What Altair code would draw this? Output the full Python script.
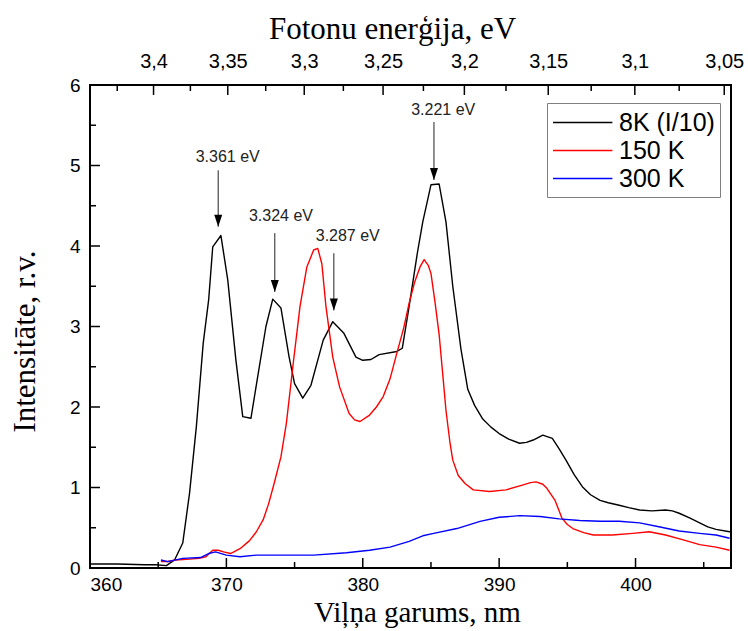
import altair as alt
import pandas as pd

# ---- data ----
black_wl = [360.0, 362.0, 364.0, 364.8, 365.6, 366.2, 366.8, 367.3, 367.8, 368.3, 368.7, 369.0, 369.6,
            370.1, 370.7, 371.2, 371.8, 372.3, 372.9, 373.4, 374.0, 374.6, 375.0, 375.6, 376.2, 377.1,
            377.8, 378.6, 379.5, 380.0, 380.6, 381.2, 382.5, 382.9, 383.4, 384.0, 384.4, 385.0, 385.6,
            386.1, 386.6, 387.2, 387.7, 388.2, 388.8, 389.4, 390.0, 390.7, 391.5, 392.0, 392.5, 393.2,
            393.9, 394.4, 394.9, 395.5, 396.1, 396.7, 397.4, 398.0, 398.8, 399.5, 400.3, 401.2, 402.2,
            402.7, 403.2, 404.0, 404.7, 405.3, 405.9, 406.9, 407.0]
black_int = [0.05, 0.05, 0.04, 0.04, 0.03, 0.10, 0.31, 0.93, 1.76, 2.79, 3.33, 3.99, 4.13,
             3.58, 2.58, 1.88, 1.86, 2.38, 3.00, 3.34, 3.23, 2.62, 2.29, 2.11, 2.27, 2.83,
             3.06, 2.92, 2.62, 2.58, 2.59, 2.65, 2.69, 2.73, 3.25, 3.91, 4.30, 4.76, 4.77,
             4.30, 3.50, 2.72, 2.22, 2.02, 1.85, 1.75, 1.67, 1.60, 1.55, 1.56, 1.59, 1.65,
             1.61, 1.48, 1.34, 1.16, 1.01, 0.91, 0.84, 0.81, 0.78, 0.75, 0.72, 0.71, 0.72,
             0.71, 0.68, 0.62, 0.56, 0.51, 0.48, 0.45, 0.45]

red_wl = [365.2, 365.7, 366.3, 367.3, 368.0, 368.5, 369.0, 369.4, 369.8, 370.3, 371.0, 371.7, 372.2,
          372.7, 373.1, 373.5, 374.0, 374.4, 374.9, 375.4, 375.9, 376.4, 376.7, 377.0, 377.3, 377.8,
          378.3, 379.0, 379.4, 379.8, 380.5, 381.0, 381.5, 382.0, 382.5, 383.0, 383.4, 383.8, 384.2,
          384.5, 384.8, 385.0, 385.3, 385.6, 385.9, 386.1, 386.4, 386.6, 387.0, 387.5, 388.1, 389.3,
          390.5, 391.7, 392.3, 392.7, 393.2, 393.5, 394.1, 394.6, 395.0, 395.4, 396.2, 396.9, 398.3,
          399.8, 401.0, 402.2, 403.5, 404.7, 405.9, 406.9]
red_int = [0.08, 0.08, 0.10, 0.11, 0.12, 0.14, 0.22, 0.22, 0.20, 0.18, 0.24, 0.34, 0.45,
           0.60, 0.80, 1.05, 1.38, 1.80, 2.54, 3.25, 3.74, 3.95, 3.97, 3.78, 3.25, 2.62,
           2.25, 1.92, 1.84, 1.82, 1.90, 2.00, 2.13, 2.35, 2.67, 2.98, 3.29, 3.55, 3.74,
           3.83, 3.76, 3.66, 3.30, 2.90, 2.34, 1.96, 1.55, 1.34, 1.15, 1.05, 0.97, 0.95,
           0.97, 1.03, 1.06, 1.07, 1.04, 0.99, 0.84, 0.62, 0.54, 0.49, 0.44, 0.41, 0.41,
           0.43, 0.45, 0.41, 0.35, 0.29, 0.26, 0.22]

blue_wl = [365.2, 365.7, 366.8, 368.1, 368.7, 369.2, 370.0, 371.0, 372.2, 373.9, 376.4, 378.8, 380.5,
           382.0, 383.4, 384.4, 385.2, 386.9, 388.6, 390.0, 391.5, 393.0, 394.4, 395.9, 397.4, 398.8,
           400.3, 401.8, 403.2, 404.7, 405.9, 406.9]
blue_int = [0.10, 0.08, 0.12, 0.13, 0.18, 0.20, 0.16, 0.14, 0.16, 0.16, 0.16, 0.19, 0.22,
            0.26, 0.33, 0.40, 0.43, 0.49, 0.58, 0.63, 0.65, 0.64, 0.61, 0.59, 0.58, 0.58,
            0.56, 0.51, 0.46, 0.43, 0.41, 0.37]

series_names = ["8K (I/10)", "150 K", "300 K"]
series_colors = ["#000000", "#ff0000", "#0000ff"]

# axis ticks
x_major = [360, 370, 380, 390, 400]
x_minor = [365, 375, 385, 395, 405]
y_major = [0, 1, 2, 3, 4, 5, 6]
y_minor = [0.5, 1.5, 2.5, 3.5, 4.5, 5.5]
e_major = [3.4, 3.35, 3.3, 3.25, 3.2, 3.15, 3.1, 3.05]
e_minor = [3.425, 3.375, 3.325, 3.275, 3.225, 3.175, 3.125, 3.075]
HC = 1239.84  # eV*nm

# annotations
ann_labels = ["3.361 eV", "3.324 eV", "3.287 eV", "3.221 eV"]
ann_text_x = [370.1, 374.0, 378.9, 385.9]
ann_text_y = [5.11, 4.37, 4.12, 5.69]
ann_arrow_x = [369.4, 373.55, 377.88, 385.22]
ann_arrow_top = [4.94, 4.16, 3.91, 5.54]
ann_arrow_tip = [4.24, 3.43, 3.20, 4.82]

# ---- build tables ----
rows = []
for name, order, wl, it in [(series_names[0], 0, black_wl, black_int),
                            (series_names[1], 1, red_wl, red_int),
                            (series_names[2], 2, blue_wl, blue_int)]:
    for i, (a, b) in enumerate(zip(wl, it)):
        rows.append({"series": name, "ord": order, "i": i, "wl": a, "I": b})
df = pd.DataFrame(rows)

W, H = 641, 483
xs = alt.Scale(domain=[360, 407], nice=False, zero=False)
ys = alt.Scale(domain=[0, 6], nice=False, zero=False)
SANS = "Liberation Sans"
SERIF = "Liberation Serif"

lines = alt.Chart(df).mark_line(strokeWidth=1.4, strokeJoin="round").encode(
    x=alt.X("wl:Q", scale=xs, axis=alt.Axis(
        orient="bottom", values=x_major, ticks=False, tickSize=0, domain=False,
        labelFont=SANS, labelFontSize=19, labelColor="black", labelPadding=7,
        title="Viļņa garums, nm", titleFont=SERIF, titleFontSize=29, titleFontWeight="normal",
        titleColor="black", titleX=327, titleY=53, titleBaseline="alphabetic", titleAlign="center")),
    y=alt.Y("I:Q", scale=ys, axis=alt.Axis(
        orient="left", values=y_major, ticks=False, tickSize=0, domain=False,
        labelFont=SANS, labelFontSize=19, labelColor="black", labelPadding=10,
        title="Intensitāte, r.v.", titleFont=SERIF, titleFontSize=31, titleFontWeight="normal",
        titleColor="black", titleX=-65, titleY=256, titleAngle=-90, titleBaseline="middle",
        titleAlign="center")),
    color=alt.Color("series:N", scale=alt.Scale(domain=series_names, range=series_colors),
                    legend=alt.Legend(orient="none", legendX=457, legendY=18, title=None,
                                      symbolType="M-1,0H3.4", symbolSize=729, symbolStrokeWidth=1.4,
                                      labelFont=SANS, labelFontSize=25, labelColor="black",
                                      strokeColor="#808080", fillColor="white", padding=5,
                                      rowPadding=0, labelOffset=38, labelLimit=300)),
    detail="ord:O",
    order="i:Q",
)

tx_major = pd.DataFrame({"v": x_major})
tx_minor = pd.DataFrame({"v": x_minor})
ty_major = pd.DataFrame({"v": y_major})
ty_minor = pd.DataFrame({"v": y_minor})
te_major = pd.DataFrame({"v": [HC / e for e in e_major]})
te_minor = pd.DataFrame({"v": [HC / e for e in e_minor]})

def xticks(d, length):
    return alt.Chart(d).mark_rule(color="black", strokeWidth=1.5).encode(
        x=alt.X("v:Q", scale=xs, axis=None), y=alt.value(H), y2=alt.value(H - length))

def yticks(d, length):
    return alt.Chart(d).mark_rule(color="black", strokeWidth=1.5).encode(
        y=alt.Y("v:Q", scale=ys, axis=None), x=alt.value(0), x2=alt.value(length))

top_major = alt.Chart(te_major).mark_rule(color="black", strokeWidth=1.5).encode(
    x=alt.X("v:Q", scale=xs, axis=alt.Axis(
        orient="top", values=[HC / e for e in e_major], ticks=False, tickSize=0, domain=False,
        labelExpr="replace(toString(round(1239.84 / datum.value * 100) / 100), '.', ',')",
        labelFont=SANS, labelFontSize=20, labelColor="black", labelPadding=14,
        title="Fotonu enerģija, eV", titleFont=SERIF, titleFontSize=31, titleFontWeight="normal",
        titleColor="black", titleX=302, titleY=-47, titleBaseline="alphabetic", titleAlign="center")),
    y=alt.value(0), y2=alt.value(10))
top_minor = alt.Chart(te_minor).mark_rule(color="black", strokeWidth=1.5).encode(
    x=alt.X("v:Q", scale=xs, axis=None), y=alt.value(0), y2=alt.value(6))

ann = pd.DataFrame({"label": ann_labels, "tx": ann_text_x, "ty": ann_text_y,
                    "ax": ann_arrow_x, "atop": ann_arrow_top, "atip": ann_arrow_tip})
arrow_lines = alt.Chart(ann).mark_rule(color="#222222", strokeWidth=1).encode(
    x=alt.X("ax:Q", scale=xs, axis=None), y=alt.Y("atop:Q", scale=ys, axis=None), y2="atip:Q")
arrow_heads = alt.Chart(ann).mark_point(shape="M-1,-3L1,-3L0,0Z", filled=True, size=64,
                                        color="black", opacity=1, strokeWidth=0).encode(
    x=alt.X("ax:Q", scale=xs, axis=None), y=alt.Y("atip:Q", scale=ys, axis=None))
ann_text = alt.Chart(ann).mark_text(font=SANS, fontSize=16, color="#222222",
                                    align="center", baseline="middle").encode(
    x=alt.X("tx:Q", scale=xs, axis=None), y=alt.Y("ty:Q", scale=ys, axis=None), text="label:N")

chart = alt.layer(
    lines,
    top_major, top_minor,
    xticks(tx_major, 10), xticks(tx_minor, 6),
    yticks(ty_major, 10), yticks(ty_minor, 6),
    arrow_lines, arrow_heads, ann_text,
).resolve_axis(x="independent", y="independent").properties(
    width=W, height=H,
    padding={"left": 90, "top": 85, "right": 17, "bottom": 63},
    autosize=alt.AutoSizeParams(type="none"),
).configure_view(stroke="black", strokeWidth=2).configure_axis(grid=False)

chart.save("out.html", embed_options={"renderer": "svg", "actions": False})
